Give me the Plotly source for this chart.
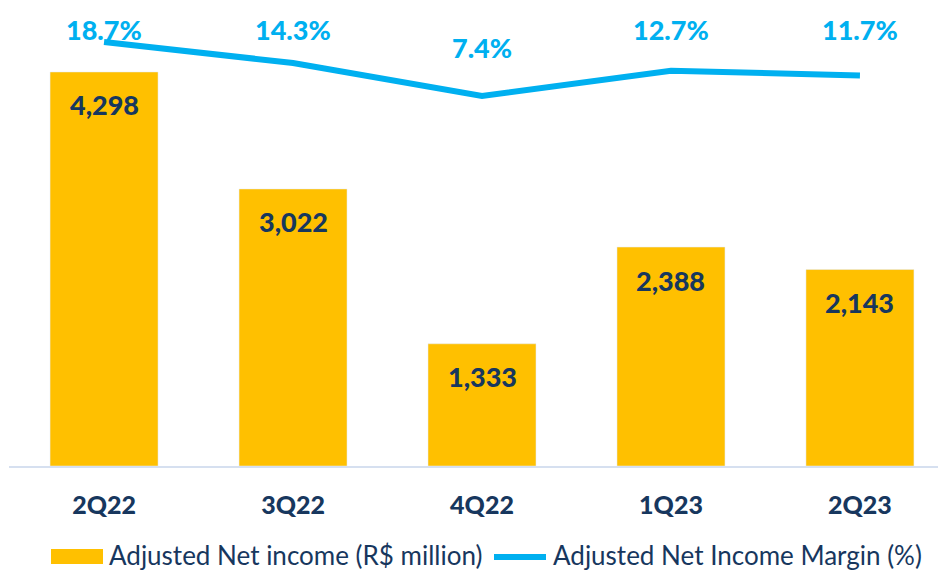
import plotly.graph_objects as go

categories = ["2Q22", "3Q22", "4Q22", "1Q23", "2Q23"]
net_income = [4298, 3022, 1333, 2388, 2143]
margin_pct = [18.7, 14.3, 7.4, 12.7, 11.7]
bar_name = "Adjusted Net income (R$ million)"
line_name = "Adjusted Net Income Margin (%)"

W, H = 938, 570
L, R, T, B = 9, 0, 0, 104
PW, PH = W - L - R, H - T - B

BAR_C = "#FFC000"
LINE_C = "#00B0F0"
NAVY = "#17375E"
FONT = "Lato"


def px(xp):
    return (xp - L) / PW


def py(yp):
    return (H - B - yp) / PH


fig = go.Figure()
fig.add_trace(go.Bar(x=categories, y=net_income, marker_color=BAR_C,
                     name=bar_name, showlegend=False, hoverinfo="skip"))
fig.add_trace(go.Scatter(x=categories, y=margin_pct, yaxis="y2", mode="lines",
                         line=dict(color=LINE_C, width=6), name=line_name,
                         showlegend=False, hoverinfo="skip"))

annotations = []
for c, v in zip(categories, net_income):
    annotations.append(dict(x=c, y=v, xref="x", yref="y", text=f"{v:,}",
                            showarrow=False, yshift=-33, yanchor="middle",
                            font=dict(family=FONT, size=27, color=NAVY, weight=900)))
label_top_px = [30, 30, 47.5, 30, 30]
for c, v, ly in zip(categories, margin_pct, label_top_px):
    annotations.append(dict(x=c, y=py(ly), xref="x", yref="paper", text=f"{v:.1f}%",
                            showarrow=False, yanchor="middle",
                            font=dict(family=FONT, size=27, color=LINE_C, weight=900)))
# legend
annotations.append(dict(x=px(107), y=py(555), xref="paper", yref="paper", text=bar_name,
                        showarrow=False, xanchor="left", yanchor="middle",
                        font=dict(family=FONT, size=26, color=NAVY)))
annotations.append(dict(x=px(551), y=py(555), xref="paper", yref="paper", text=line_name,
                        showarrow=False, xanchor="left", yanchor="middle",
                        font=dict(family=FONT, size=26, color=NAVY)))

shapes = [
    dict(type="rect", xref="paper", yref="paper", x0=px(51), x1=px(103), y0=py(564), y1=py(549),
         fillcolor=BAR_C, line=dict(width=0)),
    dict(type="line", xref="paper", yref="paper", x0=px(494), x1=px(546), y0=py(557), y1=py(557),
         line=dict(color=LINE_C, width=6)),
]

fig.update_layout(
    width=W, height=H, margin=dict(l=L, r=R, t=T, b=B),
    paper_bgcolor="white", plot_bgcolor="white",
    bargap=0.4286,
    xaxis=dict(type="category", categoryorder="array", categoryarray=categories,
               range=[-0.503, 4.413], showgrid=False, zeroline=False,
               showline=True, linecolor="#D6E0F0", linewidth=2, ticks="",
               ticklabelstandoff=16,
               tickfont=dict(family=FONT, size=25, color=NAVY, weight=900)),
    yaxis=dict(range=[0, 5083], visible=False, showgrid=False, zeroline=False),
    yaxis2=dict(range=[-70.0, 27.48], overlaying="y", side="right", visible=False,
                showgrid=False, zeroline=False),
    annotations=annotations, shapes=shapes, showlegend=False,
)

fig.write_html("out.html", config={"displayModeBar": False},
               post_script="document.body.style.margin='0';document.body.style.overflow='hidden';")
